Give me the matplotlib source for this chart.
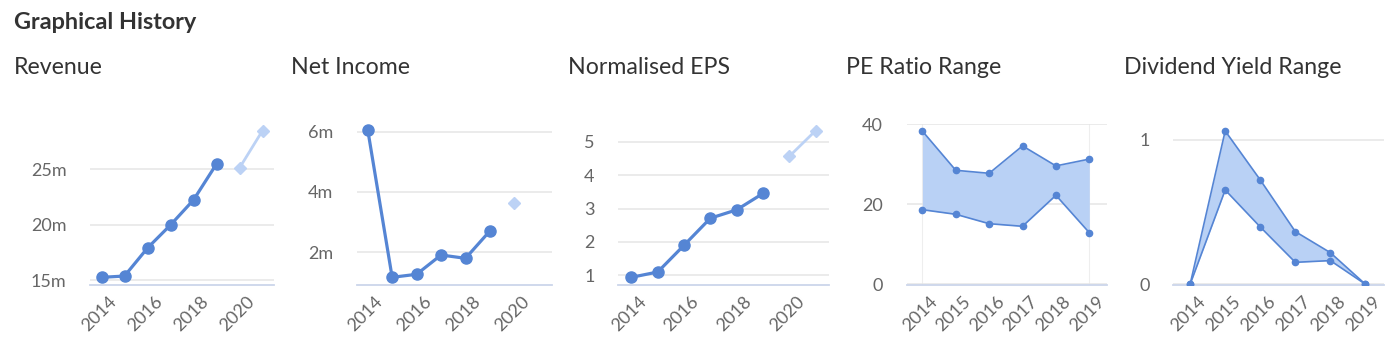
import matplotlib
matplotlib.use('Agg')
import matplotlib.pyplot as plt
from matplotlib.transforms import ScaledTranslation

plt.rcParams['font.family'] = ['Lato', 'DejaVu Sans']

# ---------------- data ----------------
years = [2014, 2015, 2016, 2017, 2018, 2019]
fc_years = [2020, 2021]

revenue = [15.24, 15.36, 17.89, 19.97, 22.23, 25.48]      # millions
revenue_fc = [25.12, 28.49]

net_income = [6.07, 1.17, 1.27, 1.91, 1.80, 2.71]          # millions
ni_fc_years = [2020]
net_income_fc = [3.65]

eps = [0.94, 1.10, 1.90, 2.71, 2.96, 3.45]
eps_fc = [4.56, 5.33]

pe_high = [38.3, 28.5, 27.75, 34.6, 29.6, 31.3]
pe_low = [18.65, 17.5, 15.15, 14.5, 22.25, 12.9]

dy_high = [0.0, 1.062, 0.723, 0.365, 0.219, 0.0]
dy_low = [0.0, 0.653, 0.397, 0.152, 0.164, 0.0]

rev_ticks = [15, 20, 25]
rev_tick_labels = ['15m', '20m', '25m']
ni_ticks = [2, 4, 6]
ni_tick_labels = ['2m', '4m', '6m']
eps_ticks = [1, 2, 3, 4, 5]
pe_ticks = [0, 20, 40]
dy_ticks = [0, 1]
x_ticks_wide = [2014, 2016, 2018, 2020]

titles = ['Revenue', 'Net Income', 'Normalised EPS', 'PE Ratio Range', 'Dividend Yield Range']

# ---------------- style ----------------
BLUE = '#5585d4'
LIGHT = '#bcd2f5'
FILL = '#b9d1f5'
GRID = '#e6e6e6'
AXIS = '#ccd6eb'
TICK = '#666666'
TXT = '#333333'
FS_TICK = 13

W, H = 1391, 352
fig = plt.figure(figsize=(W / 100, H / 100), dpi=100)
fig.patch.set_facecolor('white')


def add_ax(x0, x1, y0=124, y1=285):
    return fig.add_axes([x0 / W, 1 - y1 / H, (x1 - x0) / W, (y1 - y0) / H])


def style(ax, xticks, xlim, yticks, ylabels, ylim):
    for s in ['top', 'right', 'left']:
        ax.spines[s].set_visible(False)
    ax.spines['bottom'].set_color(AXIS)
    ax.spines['bottom'].set_linewidth(1.3)
    ax.set_xlim(*xlim)
    ax.set_ylim(*ylim)
    ax.set_yticks(yticks, ylabels)
    ax.yaxis.grid(True, color=GRID, lw=1.1)
    ax.set_axisbelow(True)
    ax.tick_params(axis='y', length=0, pad=17, labelsize=FS_TICK, labelcolor=TICK)
    ax.tick_params(axis='x', length=0, pad=10, labelsize=FS_TICK, labelcolor=TICK)
    ax.set_xticks(xticks, [str(t) for t in xticks])
    off = ScaledTranslation(0.125, 0, fig.dpi_scale_trans)
    for lab in ax.get_xticklabels():
        lab.set_rotation(45)
        lab.set_rotation_mode('anchor')
        lab.set_ha('right')
        lab.set_va('center')
        lab.set_transform(lab.get_transform() + off)


fig.text(14 / W, 1 - 29 / H, 'Graphical History', fontsize=16.9, fontweight='bold',
         color=TXT, va='baseline', ha='left')
title_x = [14, 291, 568, 846, 1124]
for tx, t in zip(title_x, titles):
    fig.text(tx / W, 1 - 74 / H, t, fontsize=16.7, color=TXT, va='baseline', ha='left')

# Revenue
ax = add_ax(90, 274)
ax.plot(years, revenue, color=BLUE, lw=2.3, marker='o', ms=8, zorder=3)
ax.plot(fc_years, revenue_fc, color=LIGHT, lw=2.0, marker='D', ms=6, zorder=3)
style(ax, x_ticks_wide, (2013.5, 2021.5), rev_ticks, rev_tick_labels, (14.55, 29.09))

# Net income
ax = add_ax(356.7, 552.3)
ax.plot(years, net_income, color=BLUE, lw=2.3, marker='o', ms=8, zorder=3)
ax.plot(ni_fc_years, net_income_fc, color=LIGHT, lw=2.0, marker='D', ms=6, ls='none', zorder=3)
style(ax, x_ticks_wide, (2013.55, 2021.55), ni_ticks, ni_tick_labels, (0.915, 6.255))

# EPS
ax = add_ax(618.3, 828.7)
ax.plot(years, eps, color=BLUE, lw=2.3, marker='o', ms=8, zorder=3)
ax.plot(fc_years, eps_fc, color=LIGHT, lw=2.0, marker='D', ms=6, zorder=3)
style(ax, x_ticks_wide, (2013.5, 2021.5), eps_ticks, [str(t) for t in eps_ticks], (0.71, 5.53))

# PE range
ax = add_ax(906.7, 1107)
ax.axvline(years[0], color='#eeeeee', lw=0.8, zorder=0)
ax.axvline(years[-1], color='#eeeeee', lw=0.8, zorder=0)
ax.fill_between(years, pe_low, pe_high, color=FILL, lw=0, zorder=2)
ax.plot(years, pe_high, color=BLUE, lw=1.2, marker='o', ms=4.5, zorder=3)
ax.plot(years, pe_low, color=BLUE, lw=1.2, marker='o', ms=4.5, zorder=3)
style(ax, years, (2013.53, 2019.53), pe_ticks, [str(t) for t in pe_ticks], (-0.17, 40.07))

# Dividend yield range
ax = add_ax(1173.3, 1384)
ax.fill_between(years, dy_low, dy_high, color=FILL, lw=0, zorder=2)
ax.plot(years, dy_high, color=BLUE, lw=1.2, marker='o', ms=4.5, zorder=3)
ax.plot(years, dy_low, color=BLUE, lw=1.2, marker='o', ms=4.5, zorder=3)
style(ax, years, (2013.52, 2019.53), dy_ticks, [str(t) for t in dy_ticks], (-0.005, 1.11))

fig.savefig('out.png', dpi=100, facecolor='white')
